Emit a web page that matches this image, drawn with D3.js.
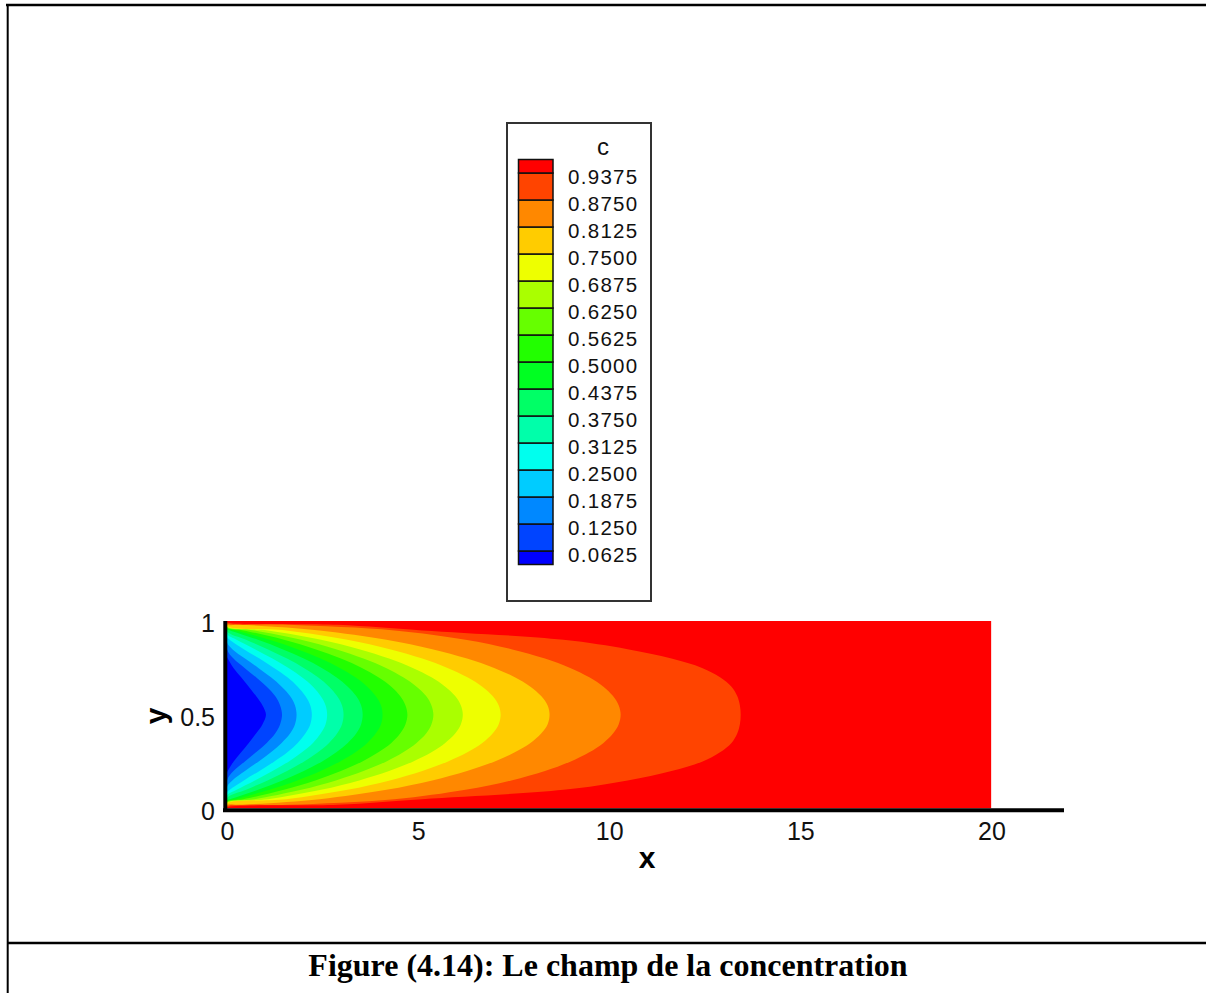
<!DOCTYPE html>
<html>
<head>
<meta charset="utf-8">
<script src="https://cdn.jsdelivr.net/npm/d3@7"></script>
<style>
  html, body { margin: 0; padding: 0; background: #fff; }
  svg { display: block; }
</style>
</head>
<body>
<svg id="fig" width="1206" height="993"></svg>
<script>
// Contour levels of the concentration c
const levels = [0.0625, 0.125, 0.1875, 0.25, 0.3125, 0.375, 0.4375, 0.5,
                0.5625, 0.625, 0.6875, 0.75, 0.8125, 0.875, 0.9375];

// Fill colour of each band, from c < 0.0625 up to c > 0.9375
const bandColors = ["#0000ff", "#0044ff", "#0088ff", "#00ccff", "#00ffee", "#00ffaa",
                    "#00ff66", "#00ff22", "#22ff00", "#66ff00", "#aaff00", "#eeff00",
                    "#ffcc00", "#ff8800", "#ff4400", "#ff0000"];

const xTicks = [0, 5, 10, 15, 20];
const yTicks = [0, 0.5, 1];
const channelLength = 20;
const axisXMax = 21.9;

// Distance from the wall at which each contour meets the inlet (x = 0)
const edgeGap = [0.19, 0.15, 0.115, 0.085, 0.068, 0.055, 0.045, 0.04,
                 0.036, 0.032, 0.029, 0.026, 0.019, 0.012, 0.006];

// Distances from the wall at which the contours are sampled (lower half of the channel)
const profileW = [0.02, 0.05, 0.1, 0.15, 0.2, 0.25, 0.3, 0.35, 0.4, 0.45, 0.5];

// x position of each contour at those distances (0 = contour not yet reached)
const contourX = [
  [0, 0, 0, 0, 0.02, 0.17, 0.37, 0.57, 0.76, 0.93, 1.02],
  [0, 0, 0, 0, 0.17, 0.46, 0.76, 1.04, 1.26, 1.39, 1.44],
  [0, 0, 0, 0.14, 0.47, 0.82, 1.15, 1.43, 1.65, 1.78, 1.82],
  [0, 0, 0.07, 0.44, 0.85, 1.23, 1.58, 1.85, 2.05, 2.18, 2.22],
  [0, 0, 0.25, 0.73, 1.19, 1.61, 1.96, 2.25, 2.45, 2.58, 2.62],
  [0, 0, 0.50, 1.06, 1.57, 2.01, 2.38, 2.67, 2.88, 3.01, 3.05],
  [0, 0.08, 0.81, 1.45, 2.01, 2.48, 2.86, 3.16, 3.38, 3.51, 3.55],
  [0, 0.23, 1.11, 1.84, 2.45, 2.95, 3.36, 3.67, 3.89, 4.03, 4.07],
  [0, 0.43, 1.49, 2.31, 2.98, 3.53, 3.96, 4.30, 4.53, 4.67, 4.72],
  [0, 0.72, 1.94, 2.85, 3.57, 4.16, 4.61, 4.96, 5.21, 5.35, 5.40],
  [0, 1.07, 2.46, 3.46, 4.24, 4.86, 5.35, 5.71, 5.97, 6.12, 6.17],
  [0, 1.55, 3.15, 4.26, 5.11, 5.77, 6.29, 6.68, 6.95, 7.11, 7.16],
  [0.32, 2.42, 4.17, 5.37, 6.28, 6.99, 7.53, 7.94, 8.22, 8.39, 8.44],
  [1.60, 4.38, 6.24, 7.44, 8.32, 8.98, 9.48, 9.85, 10.10, 10.25, 10.30],
  [2.90, 5.10, 8.80, 10.48, 11.63, 12.43, 12.90, 13.20, 13.35, 13.42, 13.44]
];

const svg = d3.select("#fig");
const sans = "Arial, 'Liberation Sans', Helvetica, sans-serif";

// Page frame and caption rule
svg.append("line").attr("x1", 6).attr("x2", 1206).attr("y1", 5).attr("y2", 5)
  .attr("stroke", "#000").attr("stroke-width", 2.5);
svg.append("line").attr("x1", 7.7).attr("x2", 7.7).attr("y1", 4).attr("y2", 993)
  .attr("stroke", "#000").attr("stroke-width", 2);
svg.append("line").attr("x1", 7).attr("x2", 1206).attr("y1", 943).attr("y2", 943)
  .attr("stroke", "#000").attr("stroke-width", 2.5);

svg.append("text")
  .attr("x", 608).attr("y", 976)
  .attr("text-anchor", "middle")
  .attr("font-family", "'Times New Roman', 'Liberation Serif', serif")
  .attr("font-weight", "bold")
  .attr("font-size", 32)
  .text("Figure (4.14): Le champ de la concentration");

// Scales
const xScale = d3.scaleLinear().domain([0, axisXMax]).range([227, 1064]);
const yScale = d3.scaleLinear().domain([0, 1]).range([808.5, 621]);

// Clip to the channel
svg.append("clipPath").attr("id", "channel")
  .append("rect")
  .attr("x", xScale(0)).attr("y", yScale(1))
  .attr("width", xScale(channelLength) - xScale(0))
  .attr("height", yScale(0) - yScale(1));

const field = svg.append("g").attr("clip-path", "url(#channel)");

// Highest band fills the whole channel
field.append("rect")
  .attr("x", xScale(0)).attr("y", yScale(1))
  .attr("width", xScale(channelLength) - xScale(0))
  .attr("height", yScale(0) - yScale(1))
  .attr("fill", bandColors[15]);

const line = d3.line()
  .x(d => xScale(d[0]))
  .y(d => yScale(d[1]))
  .curve(d3.curveCatmullRom.alpha(0.5));

// Region c < level, symmetric about the centreline y = 0.5
function regionPoints(k) {
  const gap = edgeGap[k];
  const lower = [];
  profileW.forEach((w, i) => {
    if (w > gap && contourX[k][i] > 0) lower.push([contourX[k][i], w]);
  });
  const pts = [[0, 0], [0, gap], ...lower];
  for (let i = lower.length - 2; i >= 0; i--) {
    pts.push([lower[i][0], 1 - lower[i][1]]);
  }
  pts.push([0, 1 - gap], [0, 1]);
  return pts;
}

for (let k = levels.length - 1; k >= 0; k--) {
  field.append("path")
    .attr("d", line(regionPoints(k)) + "Z")
    .attr("fill", bandColors[k])
    .attr("stroke", "none");
}

// Axes
const xAxis = d3.axisBottom(xScale).tickValues(xTicks).tickSize(0).tickPadding(14)
  .tickFormat(d3.format("d"));
const gx = svg.append("g").attr("transform", `translate(0,${yScale(0)})`).call(xAxis);
gx.select(".domain").remove();
gx.selectAll("text").attr("font-family", sans).attr("font-size", 25).attr("fill", "#111");

const yAxis = d3.axisLeft(yScale).tickValues(yTicks).tickSize(0).tickPadding(12)
  .tickFormat(d => d === 0.5 ? "0.5" : d3.format("d")(d));
const gy = svg.append("g").attr("transform", `translate(${xScale(0)},0)`).call(yAxis);
gy.select(".domain").remove();
gy.selectAll("text").attr("font-family", sans).attr("font-size", 25).attr("fill", "#111")
  .attr("dy", "0.42em");

// Axis lines
svg.append("line")
  .attr("x1", xScale(0) - 4).attr("x2", xScale(axisXMax))
  .attr("y1", yScale(0) + 1.8).attr("y2", yScale(0) + 1.8)
  .attr("stroke", "#000").attr("stroke-width", 4);
svg.append("line")
  .attr("x1", xScale(0) - 1.7).attr("x2", xScale(0) - 1.7)
  .attr("y1", yScale(1)).attr("y2", yScale(0) + 3.5)
  .attr("stroke", "#000").attr("stroke-width", 4);

// Axis titles
svg.append("text")
  .attr("x", 647).attr("y", 868)
  .attr("text-anchor", "middle")
  .attr("font-family", sans).attr("font-weight", "bold").attr("font-size", 30)
  .text("x");
svg.append("text")
  .attr("transform", "translate(166,716) rotate(-90)")
  .attr("text-anchor", "middle")
  .attr("font-family", sans).attr("font-weight", "bold").attr("font-size", 30)
  .text("y");

// Legend
const legend = svg.append("g");
legend.append("rect")
  .attr("x", 507).attr("y", 123).attr("width", 144).attr("height", 478)
  .attr("fill", "#fff").attr("stroke", "#333").attr("stroke-width", 2);

legend.append("text")
  .attr("x", 603).attr("y", 155)
  .attr("text-anchor", "middle")
  .attr("font-family", sans).attr("font-size", 24).attr("fill", "#111")
  .text("c");

const step = levels[1] - levels[0];
const legendY = d3.scaleLinear()
  .domain([levels[0], levels[levels.length - 1]])
  .range([551, 173]);

bandColors.forEach((col, i) => {
  const lo = i === 0 ? levels[0] - step / 2 : levels[i - 1];
  const hi = i === bandColors.length - 1 ? levels[levels.length - 1] + step / 2 : levels[i];
  legend.append("rect")
    .attr("x", 518.5).attr("y", legendY(hi))
    .attr("width", 34.5).attr("height", legendY(lo) - legendY(hi))
    .attr("fill", col).attr("stroke", "#111").attr("stroke-width", 1.5);
});

levels.forEach(v => {
  legend.append("text")
    .attr("x", 568).attr("y", legendY(v) + 11)
    .attr("font-family", sans).attr("font-size", 20.5).attr("fill", "#111")
    .attr("letter-spacing", 1.3)
    .text(v.toFixed(4));
});
</script>
</body>
</html>
